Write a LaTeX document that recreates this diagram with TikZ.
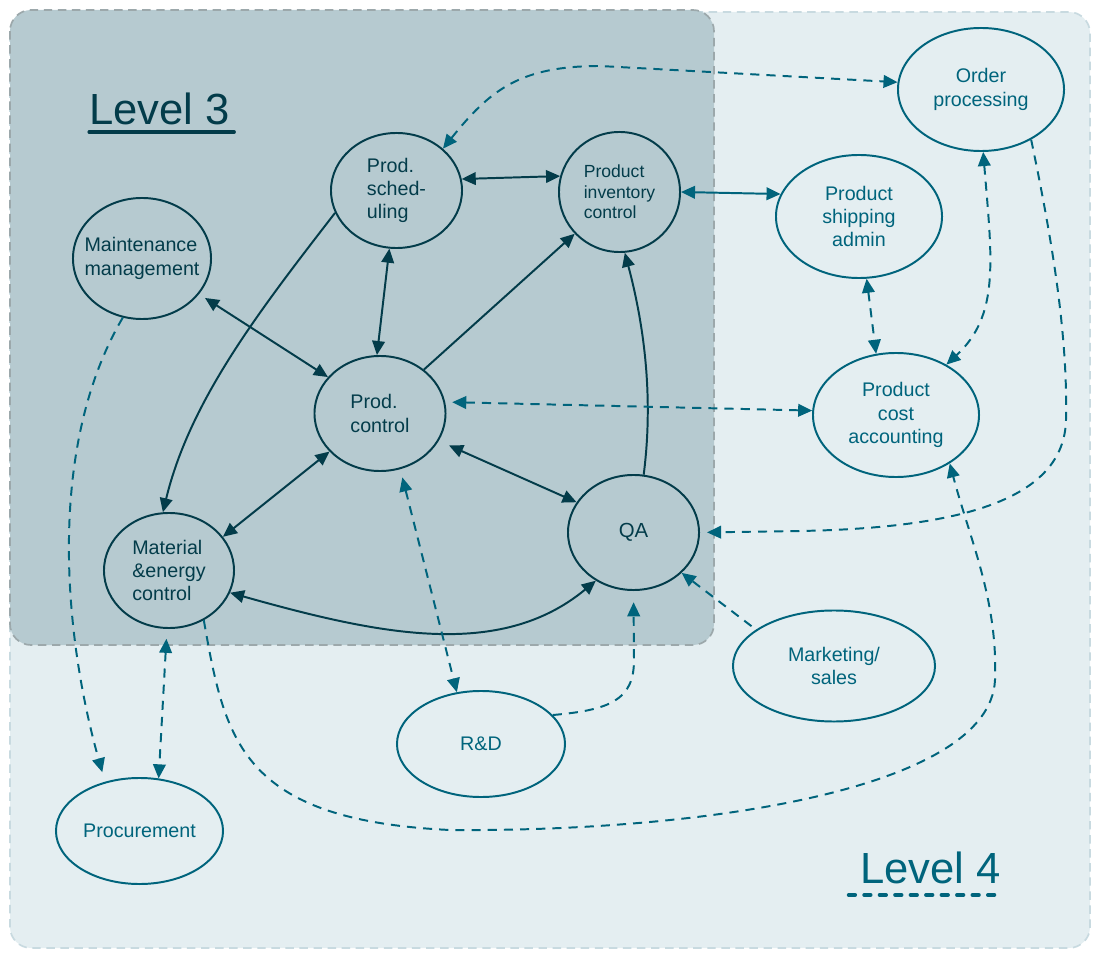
\documentclass[tikz,border=0pt]{standalone}
\usepackage{fontspec}
\setmainfont{Liberation Sans}
\usepackage{tikz}
\usetikzlibrary{shapes,backgrounds,arrows.meta}
\definecolor{lvdark}{HTML}{033C4A}
\definecolor{lvteal}{HTML}{00647C}
\definecolor{lvthreebg}{HTML}{B6CAD0}
\definecolor{lvfourbg}{HTML}{E4EEF1}
\definecolor{lvthreeedge}{HTML}{9CA8AB}
\definecolor{lvfouredge}{HTML}{C8DAE0}

\tikzset{
  lthree/.style={ellipse, draw=lvdark, line width=1.4pt, inner sep=0pt},
  lfour/.style={ellipse, draw=lvteal, line width=1.4pt, inner sep=0pt},
  tthree/.style={text=lvdark, align=left, inner sep=0pt, font=\fontsize{14}{16.5}\selectfont},
  tfour/.style={text=lvteal, align=center, inner sep=0pt, font=\fontsize{14}{16.5}\selectfont},
  solidlink/.style={draw=lvdark, fill=lvdark, line width=1.4pt},
  dashlink/.style={draw=lvteal, line width=1.4pt, dash pattern=on 6.5pt off 5pt},
}

\begin{document}
\begin{tikzpicture}[x=0.025cm, y=-0.025cm, >={Triangle[length=10pt,width=9pt]}]
\useasboundingbox (0,0) rectangle (1100,958);

% draw the two levels
\draw[fill=lvfourbg, draw=lvfouredge, line width=1.2pt, dash pattern=on 6pt off 4pt, rounded corners=15pt] (10,12) rectangle (1090,948);
\draw[fill=lvthreebg, draw=lvthreeedge, line width=1.2pt, dash pattern=on 6pt off 4pt, rounded corners=15pt] (10,10) rectangle (714,645);

\node[anchor=base west, inner sep=0pt, text=lvdark, font=\fontsize{31}{31}\selectfont] (lvthree) at (89,125) {Level 3};
\draw[lvdark, line width=2.2pt, line cap=round] ([yshift=-5pt]lvthree.base west) -- ([xshift=3pt,yshift=-5pt]lvthree.base east);
\node[anchor=base west, inner sep=0pt, text=lvteal, font=\fontsize{31}{31}\selectfont] (lvfour) at (860,883) {Level 4};
\draw[lvteal, line width=2.8pt, line cap=round, dash pattern=on 4.5pt off 6.5pt] ([xshift=-8pt,yshift=-8.5pt]lvfour.base west) -- ([yshift=-8.5pt]lvfour.base east);

% draw nodes
\node[lthree, minimum width=3.45cm, minimum height=3.025cm, label={[tthree, name=maint-t]center:Maintenance\\management}] (maint) at (142,258.5) {};
\node[lthree, minimum width=3.275cm, minimum height=2.875cm, label={[tthree, name=sched-t]center:Prod.\\sched-\\uling}] (sched) at (396.5,190.5) {};
\node[lthree, minimum width=3.025cm, minimum height=3cm, label={[tthree, name=inv-t, font=\fontsize{12.5}{14.6}\selectfont]center:Product\\inventory\\control}] (inv) at (619.5,192) {};
\node[lthree, minimum width=3.275cm, minimum height=2.875cm, label={[tthree, name=ctrl-t]center:Prod.\\control}] (ctrl) at (380,413.5) {};
\node[lthree, minimum width=3.25cm, minimum height=2.875cm, label={[tthree, name=mat-t]center:Material\\\&energy\\control}] (mat) at (169,570.5) {};
\node[lthree, minimum width=3.275cm, minimum height=2.875cm, label={[tthree, name=qa-t, font=\fontsize{14.5}{16.5}\selectfont]center:QA}] (qa) at (633.5,532.5) {};

\node[lfour, minimum width=4.15cm, minimum height=3.075cm, label={[tfour, name=order-t]center:Order\\processing}] (order) at (981,89.5) {};
\node[lfour, minimum width=4.15cm, minimum height=3.075cm, label={[tfour, name=ship-t]center:Product\\shipping\\admin}] (ship) at (859,216.5) {};
\node[lfour, minimum width=4.15cm, minimum height=3.1cm, label={[tfour, name=cost-t]center:Product\\cost\\accounting}] (cost) at (896,415) {};
\node[lfour, minimum width=5.05cm, minimum height=2.775cm, label={[tfour, name=mkt-t]center:Marketing/\\sales}] (mkt) at (834,666) {};
\node[lfour, minimum width=4.2cm, minimum height=2.65cm, label={[tfour, name=rnd-t]center:R\&D}] (rnd) at (481,744) {};
\node[lfour, minimum width=4.175cm, minimum height=2.65cm, label={[tfour, name=proc-t]center:Procurement}] (proc) at (139.5,831) {};

% draw level 3 links
\draw[solidlink, <->] (sched.10) -- (inv.165);
\draw[solidlink, <->] (ctrl.93) -- (sched.-97);
\draw[solidlink, <->, shorten <=5pt] (maint.-32) -- (ctrl.145);
\draw[solidlink, ->] (ctrl.45) -- (inv.-137);
\draw[solidlink, <->] (ctrl.-143) -- (mat.32);
\draw[solidlink, <->, shorten <=8pt] (ctrl.-25) -- (qa.152);
\draw[solidlink, fill=none, ->] (sched.-160) .. controls (260,310) and (190,400) .. (mat.96);
\draw[solidlink, fill=none, ->] (qa.80) .. controls (652,410) and (648,340) .. (inv.-85);
\draw[solidlink, fill=none, <->] (mat.-20) .. controls (380,635) and (500,660) .. (qa.-128);

% draw level 4 links
\draw[solidlink, draw=lvteal, fill=lvteal, <->] (inv.0) -- (ship.164);
\draw[dashlink, <->] (sched.42) .. controls (490,90) and (520,66) .. (600,66) -- (order.175);
\draw[dashlink, <->] (ship.-83) -- (cost.108);
\draw[dashlink, <->] (order.-88) .. controls (992,260) and (1000,315) .. (cost.45);
\draw[dashlink, ->, shorten >=5pt] (order.-45) .. controls (1050,230) and (1068,330) .. (1066,420) .. controls (1064,500) and (960,528) .. (800,531) -- (qa.0);
\draw[dashlink, <->, shorten <=5pt] (ctrl.10) -- (cost.177);
\draw[dashlink, <->, shorten <=6pt] (ctrl.-70) -- (rnd.115);
\draw[dashlink, ->, shorten >=8pt] (rnd.22) .. controls (610,710) and (634,700) .. (634,660) -- (qa.-90);
\draw[dashlink, ->, shorten <=4pt] (mkt.155) -- (qa.-40);
\draw[dashlink, ->, shorten >=7pt] (maint.-108) .. controls (45,450) and (65,640) .. (proc.125);
\draw[dashlink, <->, shorten <=7pt] (mat.-92) -- (proc.70);
\draw[dashlink, ->] (mat.-55) .. controls (225,740) and (240,820) .. (450,830) .. controls (700,832) and (990,790) .. (995,680) .. controls (998,600) and (970,540) .. (cost.-42);
\end{tikzpicture}
\end{document}
